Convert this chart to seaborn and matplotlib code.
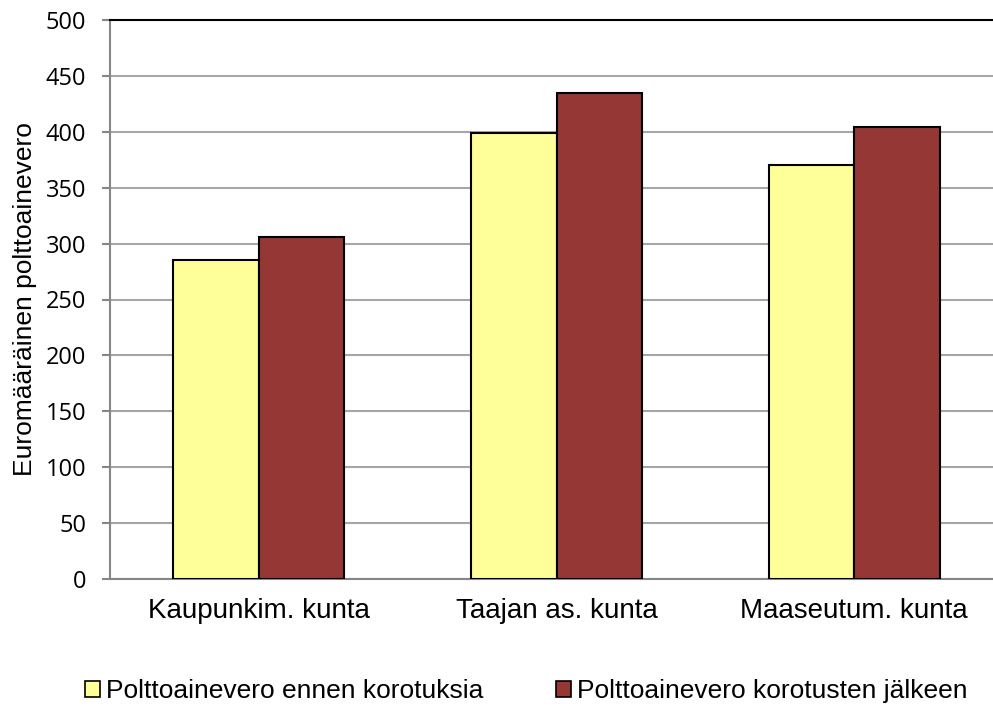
import matplotlib
matplotlib.use("Agg")
import matplotlib.pyplot as plt
import seaborn as sns
import pandas as pd
from matplotlib.patches import Patch

categories = ["Kaupunkim. kunta", "Taajan as. kunta", "Maaseutum. kunta"]
series_names = ["Polttoainevero ennen korotuksia", "Polttoainevero korotusten jälkeen"]
before = [285, 399, 370]
after = [306, 435, 404]
y_ticks = [0, 50, 100, 150, 200, 250, 300, 350, 400, 450, 500]
colors = ["#FFFF99", "#953735"]

df = pd.DataFrame({
    "kunta": categories * 2,
    "sarja": [series_names[0]] * 3 + [series_names[1]] * 3,
    "vero": before + after,
})

sns.set_theme(style="white", rc={"text.color": "black", "axes.labelcolor": "black",
                                 "xtick.color": "black", "ytick.color": "black"})
plt.rcParams["font.family"] = ["Liberation Sans", "DejaVu Sans"]

fig = plt.figure(figsize=(9.93, 7.07), dpi=100)
ax = fig.add_axes([110 / 993, (707 - 579) / 707, (1003 - 110) / 993, (579 - 20) / 707])

sns.barplot(data=df, x="kunta", y="vero", hue="sarja", palette=colors,
            saturation=1, width=0.575, edgecolor="black", linewidth=1.5,
            ax=ax, legend=False, zorder=3)

ax.set_ylim(0, 500)
ax.set_xlim(-0.5, 2.5)
ax.set_yticks(y_ticks)
ax.set_yticklabels([str(t) for t in y_ticks], fontfamily="Open Sans", fontsize=17)
ax.yaxis.grid(True, color="#A6A6A6", linewidth=1.5, zorder=0)
ax.set_axisbelow(True)
ax.tick_params(axis="y", direction="out", length=6, width=1.5, color="#868686",
               labelcolor="black", left=True, pad=11)
ax.tick_params(axis="x", length=0, pad=14, labelsize=20, labelcolor="black")
ax.set_xlabel("")
ax.set_ylabel("Euromääräinen polttoainevero", fontsize=19, labelpad=6, color="black")

for side in ["left", "bottom"]:
    ax.spines[side].set_color("#868686")
    ax.spines[side].set_linewidth(1.5)
ax.spines["right"].set_visible(False)
ax.spines["top"].set_color("black")
ax.spines["top"].set_linewidth(1.5)

handles = [Patch(facecolor=c, edgecolor="black", linewidth=1.2) for c in colors]
fig.legend(handles, series_names, loc="center left", bbox_to_anchor=(85 / 993, 1 - 691 / 707),
           ncol=2, frameon=False, fontsize=19, handlelength=0.55, handleheight=0.55,
           handletextpad=0.25, columnspacing=2.75, borderpad=0, borderaxespad=0,
           labelcolor="black")

fig.savefig("out.png", dpi=100)
